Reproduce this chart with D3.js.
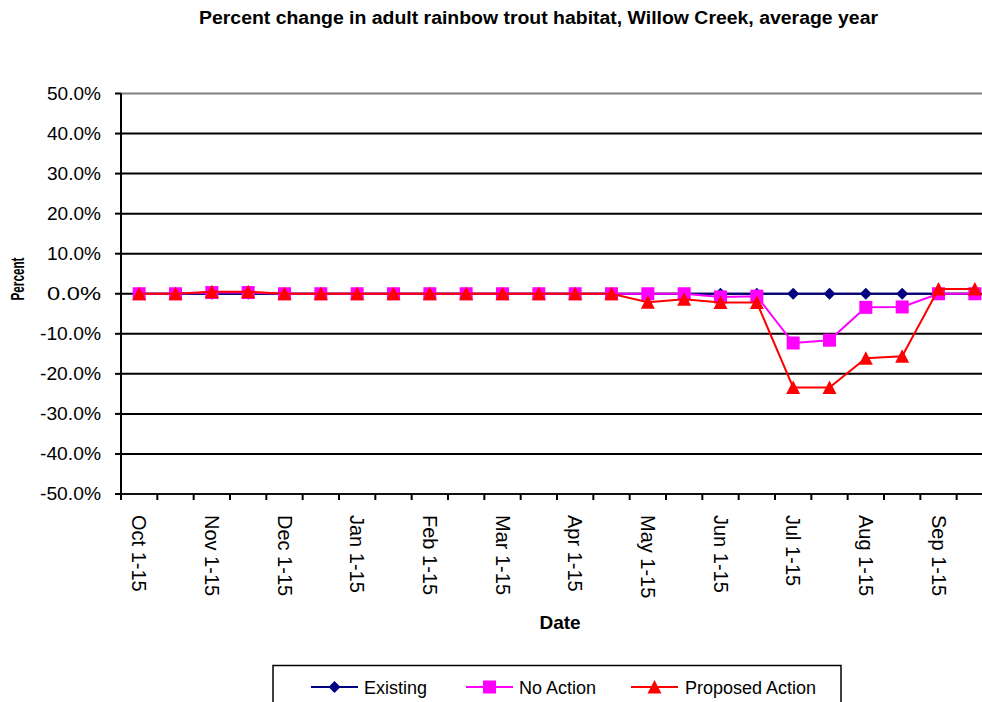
<!DOCTYPE html>
<html><head><meta charset="utf-8">
<script src="https://cdn.jsdelivr.net/npm/d3@7"></script>
<style>body{margin:0;background:#fff;} svg{display:block;font-family:"Liberation Sans",Arial,sans-serif;}</style>
</head><body>
<svg id="c" width="982" height="702"></svg>
<script>
const categories = ["Oct 1-15","Oct 16-31","Nov 1-15","Nov 16-30","Dec 1-15","Dec 16-31","Jan 1-15","Jan 16-31","Feb 1-15","Feb 16-28","Mar 1-15","Mar 16-31","Apr 1-15","Apr 16-30","May 1-15","May 16-31","Jun 1-15","Jun 16-30","Jul 1-15","Jul 16-31","Aug 1-15","Aug 16-31","Sep 1-15","Sep 16-30"];
const existing = [0,0,0,0,0,0,0,0,0,0,0,0,0,0,0,0,0,0,0,0,0,0,0,0];
const noAction = [0,0,0.3,0.3,0,0,0,0,0,0,0,0,0,0,0,0,-0.8,-0.6,-12.3,-11.6,-3.4,-3.3,0,0];
const proposed = [0,0,0.5,0.5,0,0,0,0,0,0,0,0,0,0,-2.1,-1.4,-2.2,-2.2,-23.4,-23.4,-16.1,-15.6,1.2,1.2];
const yTicks = [50,40,30,20,10,0,-10,-20,-30,-40,-50];
const seriesNames = ["Existing","No Action","Proposed Action"];
const seriesColors = ["#000080","#FF00FF","#FF0000"];

const svg = d3.select("#c");
const L = 121, R = 993, T = 93.5, B = 494;
const x = d3.scaleBand().domain(categories).range([L, R]);
const y = d3.scaleLinear().domain([-50, 50]).range([B, T]);

// title
svg.append("text").attr("x", 538.5).attr("y", 24).attr("text-anchor","middle")
  .attr("font-weight","bold").attr("font-size",18).attr("textLength",679).attr("lengthAdjust","spacingAndGlyphs")
  .text("Percent change in adult rainbow trout habitat, Willow Creek, average year");

// gridlines
yTicks.forEach(v => {
  if (v === -50) return;
  svg.append("line").attr("x1", L).attr("x2", R).attr("y1", y(v)).attr("y2", y(v))
    .attr("stroke", v === 50 ? "#808080" : "#000").attr("stroke-width", 2);
});

// y axis
svg.append("line").attr("x1", L).attr("x2", L).attr("y1", T).attr("y2", B).attr("stroke","#000").attr("stroke-width",2);
yTicks.forEach(v => {
  svg.append("line").attr("x1", L-6).attr("x2", L).attr("y1", y(v)).attr("y2", y(v)).attr("stroke","#000").attr("stroke-width",2);
  svg.append("text").attr("x", 101).attr("y", y(v)).attr("dy","0.36em").attr("text-anchor","end")
    .attr("font-size",17.5).attr("textLength", v < 0 ? 61 : 54).attr("lengthAdjust","spacingAndGlyphs")
    .text(v.toFixed(1) + "%");
});

// x axis
svg.append("line").attr("x1", L).attr("x2", R).attr("y1", B).attr("y2", B).attr("stroke","#111").attr("stroke-width",2);
categories.forEach((c, i) => {
  const bx = x(c);
  svg.append("line").attr("x1", bx).attr("x2", bx).attr("y1", B).attr("y2", B+6).attr("stroke","#000").attr("stroke-width",2);
  if (i % 2 === 0) {
    const cx = bx + x.bandwidth()/2;
    svg.append("text").attr("transform", `translate(${cx},515) rotate(90)`).attr("dy","0.35em")
      .attr("font-size",20).text(c);
  }
});

// axis titles
svg.append("text").attr("transform","translate(24,279) rotate(-90)").attr("text-anchor","middle")
  .attr("font-weight","bold").attr("font-size",19).attr("textLength",43).attr("lengthAdjust","spacingAndGlyphs").text("Percent");
svg.append("text").attr("x", 560).attr("y", 629).attr("text-anchor","middle")
  .attr("font-weight","bold").attr("font-size",19).text("Date");

// series
const data = [existing, noAction, proposed];
const line = d3.line().x((d,i) => x(categories[i]) + x.bandwidth()/2).y(d => y(d));
function marker(g, k, px, py) {
  if (k === 0) {
    g.append("path").attr("d", `M${px},${py-6}L${px+6},${py}L${px},${py+6}L${px-6},${py}Z`).attr("fill", seriesColors[k]);
  } else if (k === 1) {
    g.append("rect").attr("x", px-6.5).attr("y", py-6.5).attr("width",13).attr("height",13).attr("fill", seriesColors[k]);
  } else {
    g.append("path").attr("d", `M${px},${py-7}L${px+7},${py+6.5}L${px-7},${py+6.5}Z`).attr("fill", seriesColors[k]);
  }
}
data.forEach((vals, k) => {
  const g = svg.append("g");
  g.append("path").datum(vals).attr("d", line).attr("fill","none").attr("stroke", seriesColors[k]).attr("stroke-width",2);
  vals.forEach((v, i) => marker(g, k, x(categories[i]) + x.bandwidth()/2, y(v)));
});

// legend
svg.append("rect").attr("x",273).attr("y",665.5).attr("width",568).attr("height",60)
  .attr("fill","#fff").attr("stroke","#000").attr("stroke-width",1.5);
const legX = [311, 466, 631];
const legT = [364, 519, 685];
seriesNames.forEach((n, k) => {
  const g = svg.append("g");
  g.append("line").attr("x1", legX[k]).attr("x2", legX[k]+47).attr("y1",687).attr("y2",687).attr("stroke",seriesColors[k]).attr("stroke-width",2);
  marker(g, k, legX[k]+23.5, 687);
  g.append("text").attr("x", legT[k]).attr("y", 693.5).attr("font-size",18).text(n);
});
</script>
</body></html>
